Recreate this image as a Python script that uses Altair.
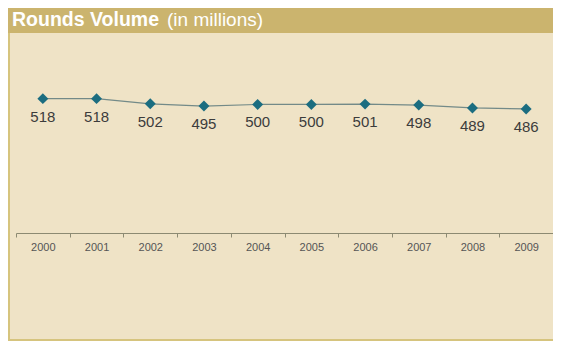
import altair as alt
import pandas as pd

years = ["2000", "2001", "2002", "2003", "2004", "2005", "2006", "2007", "2008", "2009"]
volumes = [518, 518, 502, 495, 500, 500, 501, 498, 489, 486]

title_bold = "Rounds Volume"
title_light = "(in millions)"

BG = "#efe3c6"
GOLD = "#cbb46e"
BORDER = "#d6c47e"
TEAL = "#1b6d80"

df = pd.DataFrame({"year": years, "volume": volumes})
one = pd.DataFrame({"a": [0]})

x_enc = alt.X(
    "year:O",
    sort=years,
    bandPosition=0.5,
    scale=alt.Scale(type="band", paddingInner=0, paddingOuter=0),
    axis=alt.Axis(
        title=None,
        tickBand="extent",
        tickSize=4,
        tickColor="#8c8a72",
        domainColor="#8c8a72",
        domainWidth=1,
        labelPadding=4,
        labelFont="Liberation Sans",
        labelFontSize=11,
        labelColor="#555555",
        labelAngle=0,
        grid=False,
    ),
)
y_enc = alt.Y("volume:Q", scale=alt.Scale(domain=[100, 800]), axis=None)

header = alt.Chart(one).mark_rect(color=GOLD).encode(
    x=alt.value(-8), x2=alt.value(537), y=alt.value(0), y2=alt.value(25)
)
left_border = alt.Chart(one).mark_rect(color=BORDER).encode(
    x=alt.value(-8), x2=alt.value(-6), y=alt.value(25), y2=alt.value(333)
)
bottom_border = alt.Chart(one).mark_rect(color=BORDER).encode(
    x=alt.value(-8), x2=alt.value(537), y=alt.value(331), y2=alt.value(333)
)
t1 = alt.Chart(pd.DataFrame({"t": [title_bold]})).mark_text(
    align="left", baseline="alphabetic", font="Liberation Sans",
    fontWeight="bold", fontSize=19.5, color="white"
).encode(x=alt.value(-4), y=alt.value(18), text="t:N")
t2 = alt.Chart(pd.DataFrame({"t": [title_light]})).mark_text(
    align="left", baseline="alphabetic", font="Liberation Sans",
    fontSize=19, color="white"
).encode(x=alt.value(151), y=alt.value(18), text="t:N")

base = alt.Chart(df)
line = base.mark_line(color="#738a88", strokeWidth=1.2).encode(x=x_enc, y=y_enc)
pts = base.mark_point(shape="diamond", filled=True, size=120, color=TEAL, opacity=1).encode(
    x=x_enc, y=y_enc
)
labels = base.mark_text(
    baseline="top", dy=11, font="Liberation Sans", fontSize=15, color="#3c3c3c"
).encode(x=x_enc, y=y_enc, text="volume:Q")

chart = alt.layer(header, left_border, bottom_border, t1, t2, line, pts, labels).properties(
    width=537,
    height=225,
    background=BG,
    padding={"left": 8, "top": 0, "right": 0, "bottom": 108},
    autosize=alt.AutoSizeParams(type="none"),
).configure_view(stroke=None)

chart.save("out.html", embed_options={"renderer": "svg", "actions": False})
